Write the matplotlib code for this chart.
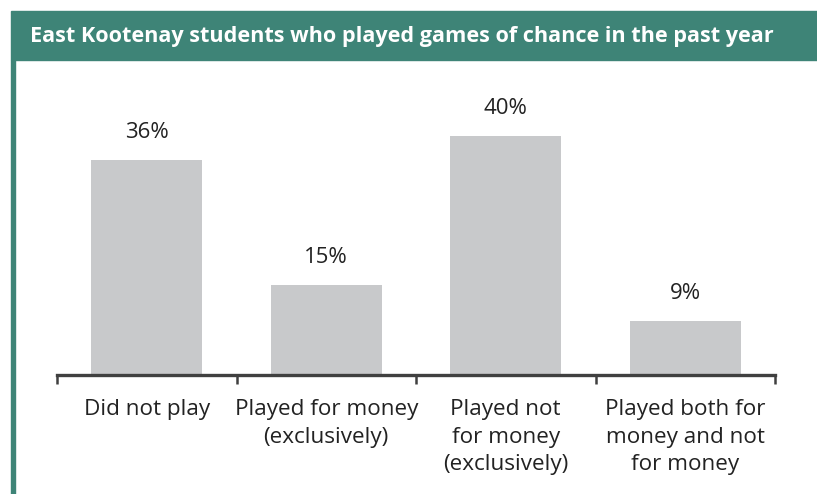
import numpy as np
import matplotlib.pyplot as plt
from matplotlib.patches import Rectangle
from matplotlib.transforms import blended_transform_factory

# chart data
categories = ["Did not play",
              "Played for money\n(exclusively)",
              "Played not\nfor money\n(exclusively)",
              "Played both for\nmoney and not\nfor money"]
values = [36, 15, 40, 9]
title = "East Kootenay students who played games of chance in the past year"

teal = "#3e8477"
bar_color = "#c8c9cb"
axis_color = "#404040"

plt.rcParams['font.family'] = ['Open Sans', 'DejaVu Sans']

W, H = 817, 494
fig = plt.figure(figsize=(W / 100, H / 100), dpi=100)

# header band and left border
fig.patches.append(Rectangle((11 / W, 1 - 60 / H), 1 - 11 / W, 49 / H,
                             transform=fig.transFigure, color=teal, zorder=0))
fig.patches.append(Rectangle((11 / W, 0), 4 / W, 1 - 60 / H,
                             transform=fig.transFigure, color=teal, zorder=0))
fig.text(30 / W, 1 - 36.5 / H, title, color="white", fontsize=15.6,
         fontweight="bold", va="center", ha="left")

ax = fig.add_axes([57 / W, 1 - 375 / H, 718 / W, 315 / H])
x = np.arange(len(categories))
ax.bar(x, values, width=0.62, color=bar_color, zorder=2)
ax.set_xlim(-0.5, 3.5)
ax.set_ylim(0, 52.7)

for xi, v in zip(x, values):
    ax.annotate(f"{v}%", (xi, v), xytext=(0, 20), textcoords="offset points",
                ha="center", va="center", fontsize=16, color="#222222")

trans = blended_transform_factory(ax.transData, ax.transAxes)
for xi, lab in zip(x, categories):
    ax.text(xi, -0.076, lab, transform=trans, ha="center", va="top",
            fontsize=16.2, color="#222222", linespacing=1.42)

for side in ["top", "right", "left"]:
    ax.spines[side].set_visible(False)
ax.spines["bottom"].set_color(axis_color)
ax.spines["bottom"].set_linewidth(2.4)
ax.set_yticks([])
ax.set_xticks([-0.5, 0.5, 1.5, 2.5, 3.5])
ax.set_xticklabels([])
ax.tick_params(axis="x", direction="out", length=6.5, width=1.8, color=axis_color)

fig.savefig("out.png", dpi=100)
